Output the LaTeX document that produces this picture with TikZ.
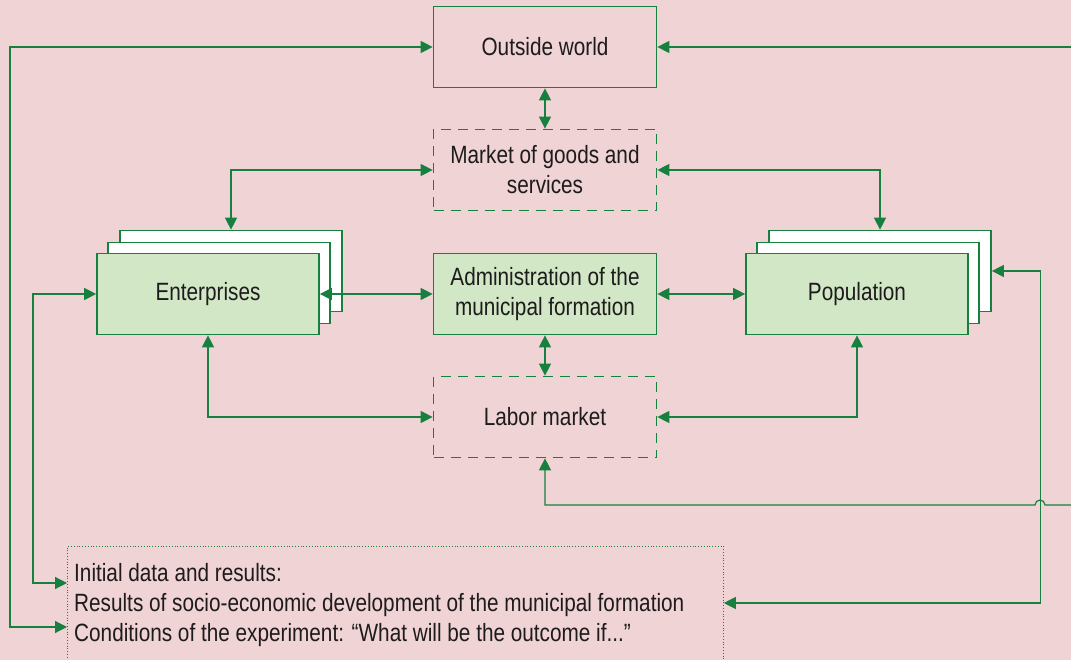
\documentclass[tikz,border=0pt]{standalone}
\usepackage{fontspec}
\setmainfont{Liberation Sans}[FakeStretch=0.83]
\usetikzlibrary{arrows.meta,calc}
\definecolor{bg}{HTML}{EFD3D5}
\definecolor{gline}{HTML}{17803F}
\definecolor{gfill}{HTML}{D1E7C6}
\definecolor{txt}{HTML}{1E1B1C}
\begin{document}
\begin{tikzpicture}[x=1pt,y=-1pt,
  tip/.tip={Triangle[length=12pt,width=12pt]},
  box/.style={draw=gline,line width=1.7pt,minimum width=223pt,minimum height=81pt,
    align=center,text=txt,font=\fontsize{25}{30}\selectfont,inner sep=0pt},
  solidbox/.style={box},
  dashbox/.style={box,dash pattern=on 10pt off 7pt},
  greenbox/.style={box,fill=gfill},
  backbox/.style={draw=gline,line width=1.7pt,fill=white,minimum width=222pt,minimum height=81pt,inner sep=0pt},
  dotbox/.style={draw=gline,line width=0.8pt,dotted,inner sep=0pt},
  linetext/.style={anchor=base west,text=txt,font=\fontsize{25}{30}\selectfont,inner sep=0pt},
  link/.style={draw=gline,line width=1.2pt,tip-tip},
  linkin/.style={draw=gline,line width=1.2pt,-tip}]
\clip (0,0) rectangle (1071,660);
\fill[bg] (0,0) rectangle (1071,660);

% central column
\node[solidbox] (ow) at (545,47) {Outside world};
\node[dashbox] (mk) at (545,170) {Market of goods and\\services};
\node[greenbox] (ad) at (545,294) {Administration of the\\municipal formation};
\node[dashbox] (lm) at (545,417) {Labor market};

% enterprises stack
\node[backbox] (e3) at (231,271) {};
\node[backbox] (e2) at (219,283) {};
\node[greenbox,minimum width=222pt] (en) at (208,294) {Enterprises};

% population stack
\node[backbox] (p3) at (880,271) {};
\node[backbox] (p2) at (868,283) {};
\node[greenbox,minimum width=222pt] (po) at (857,294) {Population};

% bottom box
\node[dotbox,anchor=north west,minimum width=656pt,minimum height=140pt] (bb) at (67,546) {};
\node[linetext] (l1) at (74,581) {Initial data and results:};
\node[linetext] (l2) at (74,611) {Results of socio-economic development of the municipal formation};
\node[linetext] (l3) at (74,641) {Conditions of the experiment: “What will be the outcome if...”};

% connectors
\draw[link] (ow.south) -- (mk.north);
\draw[link] (ad.south) -- (lm.north);
\draw[link] (mk.west) -| (e3.north);
\draw[link] (mk.east) -| (p3.north);
\draw[link] (en.east) -- (ad.west);
\draw[link] (ad.east) -- (po.west);
\draw[link] (en.south) |- (lm.west);
\draw[link] (po.south) |- (lm.east);

\coordinate (r1) at (1071,47);
\draw[linkin] (r1) -- (ow.east);
\coordinate (r2) at (1071,505);
\draw[linkin] (r2) -- (1045,505) arc[start angle=0,end angle=180,radius=5pt] -| (lm.south);

\draw[link] (ow.west) -| ($(bb.north west)+(-57,81)$) -- ($(bb.north west)+(0,81)$);
\draw[link] (en.west) -| ($(bb.north west)+(-34,37)$) -- ($(bb.north west)+(0,37)$);
\draw[link] (p3.east) -| ($(bb.north east)+(317,57)$) -- ($(bb.north east)+(0,57)$);
\end{tikzpicture}
\end{document}
